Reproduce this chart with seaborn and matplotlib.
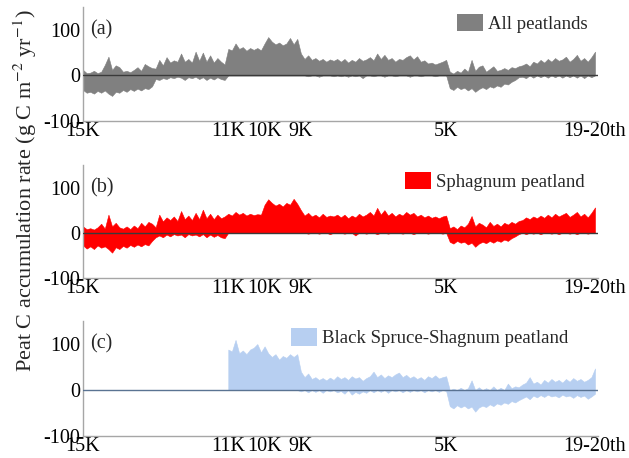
import numpy as np
import matplotlib
matplotlib.use("Agg")
import matplotlib.pyplot as plt
import seaborn as sns
from matplotlib.patches import Patch

# ---------------- data (kyr BP, 100-yr bins; upper/lower envelopes) -------------
ages = np.arange(150, 8, -1) / 10.0      # 15.0 ... 0.9 kyr
ages_c = np.arange(110, 8, -1) / 10.0    # 11.0 ... 0.9 kyr (panel c starts at 11K)

all_upper = [12, 5, 6, 10, 5, 8, 23, 41, 12, 22, 18, 8, 10, 7, 12, 18, 10, 25, 20, 16,
             15, 34, 22, 40, 28, 33, 30, 48, 30, 36, 28, 52, 32, 50, 30, 44, 28, 38, 30, 24,
             58, 55, 70, 58, 62, 54, 60, 56, 60, 55,
             70, 84, 74, 68, 72, 66, 70, 82, 68, 80,
             48, 36, 44, 34, 38, 32, 36, 30, 35, 32, 36,
             30, 36, 28, 34, 30, 38, 32, 35, 40, 33, 48, 36, 45, 34, 38, 30, 36, 34, 40, 44,
             35, 42, 30, 33, 26, 28, 24, 27, 30, 34,
             8, 4, 10, 6, 15, 8, 34, 10, 19, 22, 8, 14, 20, 10, 12, 16, 12, 18, 16, 20,
             22, 26, 20, 30, 26, 34, 28, 36, 30, 38, 32, 35, 41, 30, 36, 45, 32, 38, 30, 40, 52]
all_lower = [-32, -38, -36, -40, -34, -38, -33, -40, -45, -36, -38, -32, -36, -30, -34, -29, -33, -28, -30, -24,
             -8, -10, -6, -8, -4, -6, -3, -5, -10, -4, -6, -3, -8, -4, -10, -5, -9, -4, -8, -10,
             0, 0, 0, 0, 0, 0, 0, 0, 0, 0,
             0, 0, 0, 0, 0, 0, 0, 0, 0, 0,
             0, 0, -2, 0, 0, -3, 0, 0, 0, -2, 0,
             -2, 0, -3, 0, -2, 0, -6, 0, 0, -2, 0, 0, -3, 0, 0, -2, 0, 0, 0, -3,
             0, 0, -2, 0, 0, 0, -2, 0, 0, 0,
             -28, -32, -25, -30, -27, -33, -28, -36, -30, -26, -30, -24, -27, -22, -25, -18, -20, -14, -10, -4,
             -3, -6, 0, -5, 0, -4, 0, -5, 0, -4, 0, -5, 0, -4, 0, -5, 0, -6, 0, -4, 0]

sph_upper = [14, 8, 10, 7, 12, 20, 9, 40, 14, 22, 12, 9, 14, 8, 16, 10, 22, 14, 24, 20,
             12, 40, 25, 34, 28, 36, 26, 48, 30, 38, 28, 44, 30, 51, 32, 42, 30, 40, 32, 36,
             42, 38, 46, 40, 44, 38, 42, 39, 41, 40,
             62, 74, 66, 60, 64, 58, 66, 62, 75, 64,
             50, 38, 44, 36, 40, 34, 42, 35, 38, 36, 40,
             34, 40, 32, 38, 34, 42, 36, 40, 46, 38, 55, 40, 50, 38, 44, 36, 42, 38, 46, 40,
             44, 36, 40, 34, 38, 33, 36, 32, 36, 38,
             10, 14, 8, 16, 12, 20, 37, 14, 22, 18, 12, 24, 15, 20, 14, 22, 18, 24, 20, 26,
             28, 34, 30, 36, 32, 38, 33, 40, 34, 42, 36, 40, 44, 35, 40, 46, 36, 42, 34, 44, 56]
sph_lower = [-28, -35, -30, -36, -28, -33, -30, -36, -44, -32, -36, -29, -33, -27, -31, -26, -30, -25, -28, -18,
             -10, -6, -10, -4, -8, -3, -6, -4, -10, -3, -6, -4, -8, -3, -10, -4, -9, -5, -10, -12,
             0, 0, 0, 0, 0, 0, 0, 0, 0, 0,
             0, 0, 0, 0, 0, 0, 0, 0, 0, 0,
             0, 0, -2, 0, 0, -2, 0, 0, -3, 0, 0,
             0, -2, 0, 0, -6, 0, 0, -2, 0, 0, -3, 0, 0, -2, 0, 0, 0, -2, 0, 0,
             -3, 0, 0, 0, -2, 0, 0, 0, -2, 0,
             -20, -24, -18, -22, -20, -26, -22, -31, -24, -20, -23, -18, -22, -17, -20, -15, -18, -12, -8, -3,
             0, -3, 0, -2, 0, -3, 0, 0, -2, 0, -3, 0, 0, -2, 0, -3, 0, 0, -2, 0, 0]

bss_upper = [88, 84, 109, 80, 86, 78, 88, 92, 100, 82, 95, 80, 72, 78, 66, 74, 70, 78, 72, 78,
             40, 28, 36, 24, 28, 22, 26, 21, 27, 22, 30, 24, 28, 22, 30, 25, 28, 20, 26, 30,
             40, 28, 34, 26, 32, 28, 34, 38, 28, 33, 26, 30, 24, 28, 22, 30, 26, 32, 25, 28, 30,
             0, 3, 0, 5, 0, 4, 21, 0, 6, 0, 4, 0, 8, 0, 5, 0, 14, 4, 8, 6,
             12, 16, 28, 14, 18, 12, 22, 16, 24, 18, 22, 16, 24, 18, 26, 20, 24, 18, 22, 28, 47]
bss_lower = [0, 0, 0, 0, 0, 0, 0, 0, 0, 0, 0, 0, 0, 0, 0, 0, 0, 0, 0, 0,
             -3, 0, -5, 0, -4, 0, -6, 0, -3, 0, -5, -2, -8, 0, -10, -4, -8, -3, -6, 0,
             -5, 0, -4, 0, -6, 0, -3, 0, -5, 0, -4, 0, -3, 0, -5, 0, -3, 0, -4, 0, -2,
             -35, -40, -33, -38, -34, -40, -36, -47, -38, -34, -37, -31, -35, -29, -32, -27, -30, -24, -27, -22,
             -18, -14, -20, -12, -16, -11, -15, -10, -14, -12, -16, -10, -14, -12, -17, -11, -15, -12, -19, -14, -8]

tick_pos = [15, 11, 10, 9, 5, 1.0, 0.9]
tick_labels = ["15K", "11K", "10K", "9K", "5K", "", "19-20th"]
yticks = [-100, 0, 100]
series_names = ["All peatlands", "Sphagnum peatland", "Black Spruce-Shagnum peatland"]
panel_tags = ["(a)", "(b)", "(c)"]

# ---------------- style -------------
sns.set_theme(style="white")
plt.rcParams['font.family'] = ['Liberation Serif', 'DejaVu Serif']
plt.rcParams['mathtext.fontset'] = 'stix'
plt.rcParams['axes.unicode_minus'] = False

fig = plt.figure(figsize=(6.29, 4.58), dpi=100)

panels = [
    (ages, all_upper, all_lower, "#808080", "#3a3a3a", 0.7358),
    (ages, sph_upper, sph_lower, "#ff0000", "#3a3a3a", 0.393),
    (ages_c, bss_upper, bss_lower, "#b7cff1", "#5a7392", 0.048),
]
legend_x = [0.726, 0.625, 0.404]
heights = [0.249, 0.247, 0.251]

for i, (t, up, lo, col, zcol, bottom) in enumerate(panels):
    ax = fig.add_axes([0.132, bottom, 0.819, heights[i]])
    ax.fill_between(t, 0, up, color=col, lw=0.4, edgecolor=col, zorder=2)
    ax.fill_between(t, lo, 0, color=col, lw=0.4, edgecolor=col, zorder=2)
    ax.axhline(0, color=zcol, lw=1.0, zorder=3)
    ax.set_xlim(15, 0.813)
    ax.set_ylim(-100, 150)
    ax.set_yticks(yticks)
    ax.set_yticklabels([str(v) for v in yticks])
    ax.set_xticks(tick_pos)
    ax.set_xticklabels(tick_labels)
    sns.despine(ax=ax, top=True, right=True)
    for s in ("left", "bottom"):
        ax.spines[s].set_color("#a6a6a6")
        ax.spines[s].set_linewidth(1.0)
    ax.tick_params(axis="both", direction="in", length=3.5, width=0.8, color="#a6a6a6",
                   labelsize=14.5, labelcolor="black", pad=2)
    ax.tick_params(axis="x", pad=1)
    ax.text(0.013, 100, panel_tags[i], transform=ax.get_yaxis_transform(),
            va="center", ha="left", fontsize=14.5)
    ax.legend(handles=[Patch(facecolor=col, edgecolor="none", label=series_names[i])],
              loc="upper left", bbox_to_anchor=(legend_x[i], 1 - 7 / 114),
              frameon=False, borderpad=0, borderaxespad=0, handlelength=1.4,
              handleheight=1.05, handletextpad=0.25, fontsize=13.5)

fig.text(0.040, 0.583, "Peat C accumulation rate (g C m$^{-2}$ yr$^{-1}$)",
         rotation=90, va="center", ha="center", fontsize=16)

fig.savefig("out.png", dpi=100)
